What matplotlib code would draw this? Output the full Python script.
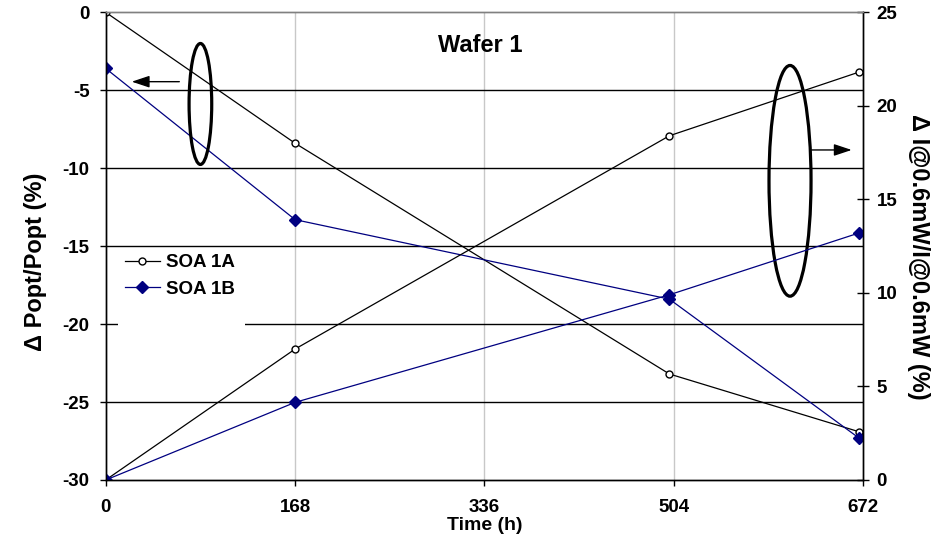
import matplotlib
matplotlib.use("Agg")
import matplotlib.pyplot as plt
from matplotlib.patches import Ellipse, Rectangle

plt.rcParams['font.family'] = ['Liberation Sans', 'DejaVu Sans']
plt.rcParams['font.weight'] = 'bold'
plt.rcParams['axes.unicode_minus'] = False

# Data
time_h = [0, 168, 500, 668]
popt_1a = [0.0, -8.4, -23.2, -26.9]
popt_1b = [-3.6, -13.3, -18.4, -27.3]
curr_1a = [0.0, 7.0, 18.4, 21.8]
curr_1b = [0.0, 4.15, 9.9, 13.2]
x_ticks = [0, 168, 336, 504, 672]
left_ticks = [-30, -25, -20, -15, -10, -5, 0]
right_ticks = [0, 5, 10, 15, 20, 25]
labels = ["SOA 1A", "SOA 1B"]

navy = '#000080'
fs_tick = 13.5

fig = plt.figure(figsize=(9.48, 5.35), dpi=100)
ax = fig.add_axes([105.7/948, 1-480/535, (863.3-105.7)/948, (480-12.3)/535])
ax2 = ax.twinx()

ax.set_xlim(0, 672)
ax.set_ylim(-30, 0)
ax2.set_ylim(0, 25)
ax.set_axisbelow(True)

# grid
for v in left_ticks[1:-1]:
    ax.axhline(v, color='black', lw=1.0, zorder=0.5)
for v in x_ticks[1:-1]:
    ax.axvline(v, color='#c8c8c8', lw=1.0, zorder=0.4)

# white legend background patch (hides gridline behind legend)
ax.add_patch(Rectangle((0.016, 0.30), 0.168, 0.10, transform=ax.transAxes,
                       facecolor='white', edgecolor='none', zorder=0.8))

l1, = ax.plot(time_h, popt_1a, color='black', lw=0.9, marker='o', ms=5,
              mfc='white', mec='black', mew=1.0, zorder=2)
l2, = ax.plot(time_h, popt_1b, color=navy, lw=0.9, marker='D', ms=6.5,
              mfc=navy, mec=navy, zorder=2)
ax2.plot(time_h, curr_1a, color='black', lw=0.9, marker='o', ms=5,
         mfc='white', mec='black', mew=1.0, zorder=2)
ax2.plot(time_h, curr_1b, color=navy, lw=0.9, marker='D', ms=6.5,
         mfc=navy, mec=navy, zorder=2)

ax.set_xticks(x_ticks)
ax.set_yticks(left_ticks)
ax2.set_yticks(right_ticks)
ax.tick_params(axis='x', direction='out', length=4.5, width=1, labelsize=fs_tick, pad=9)
ax.tick_params(axis='y', direction='out', length=4.5, width=1, labelsize=fs_tick, pad=7)
ax2.tick_params(axis='y', direction='inout', length=9, width=1, labelsize=fs_tick, pad=5)
for t in ax.get_xticklabels() + ax.get_yticklabels() + ax2.get_yticklabels():
    t.set_fontweight('bold')

for a in (ax, ax2):
    a.spines['top'].set_color('#808080')
    a.spines['left'].set_color('black')
    a.spines['right'].set_color('black')
    a.spines['bottom'].set_color('black')
    for s in a.spines.values():
        s.set_linewidth(1.0)

ax.set_xlabel("Time (h)", fontsize=14, fontweight='bold', labelpad=1)
fig.text(36/948, 1-261.5/535, "\u0394 Popt/Popt (%)", rotation=90, ha='center', va='center',
         fontsize=17, fontweight='bold')
fig.text(918.5/948, 1-257/535, "\u0394 I@0.6mW/I@0.6mW (%)", rotation=270, ha='center', va='center',
         fontsize=17, fontweight='bold')

ax.text(0.494, 0.930, "Wafer 1", transform=ax.transAxes, ha='center', va='center',
        fontsize=17, fontweight='bold')

leg = ax.legend([l1, l2], labels, loc='center left', bbox_to_anchor=(0.025, 0.436),
                frameon=False, borderpad=0, borderaxespad=0, handlelength=1.9,
                handletextpad=0.3, labelspacing=0.5, prop={'size': fs_tick, 'weight': 'bold'})

# annotations: ellipses and arrows
ax.add_patch(Ellipse((84, -5.88), 20.1, 7.76, fill=False, edgecolor='black', lw=2.3, zorder=3))
ax.add_patch(Ellipse((607, -10.81), 37.3, 14.8, fill=False, edgecolor='black', lw=2.3, zorder=3))
ax.annotate("", xy=(23.1, -4.45), xytext=(65.3, -4.45),
            arrowprops=dict(arrowstyle='-|>,head_length=0.6,head_width=0.2', lw=1,
                            color='black', mutation_scale=18, shrinkA=0, shrinkB=0))
ax.annotate("", xy=(661.7, -8.83), xytext=(626, -8.83),
            arrowprops=dict(arrowstyle='-|>,head_length=0.6,head_width=0.2', lw=1,
                            color='black', mutation_scale=18, shrinkA=0, shrinkB=0))

fig.savefig("out.png", dpi=100)
